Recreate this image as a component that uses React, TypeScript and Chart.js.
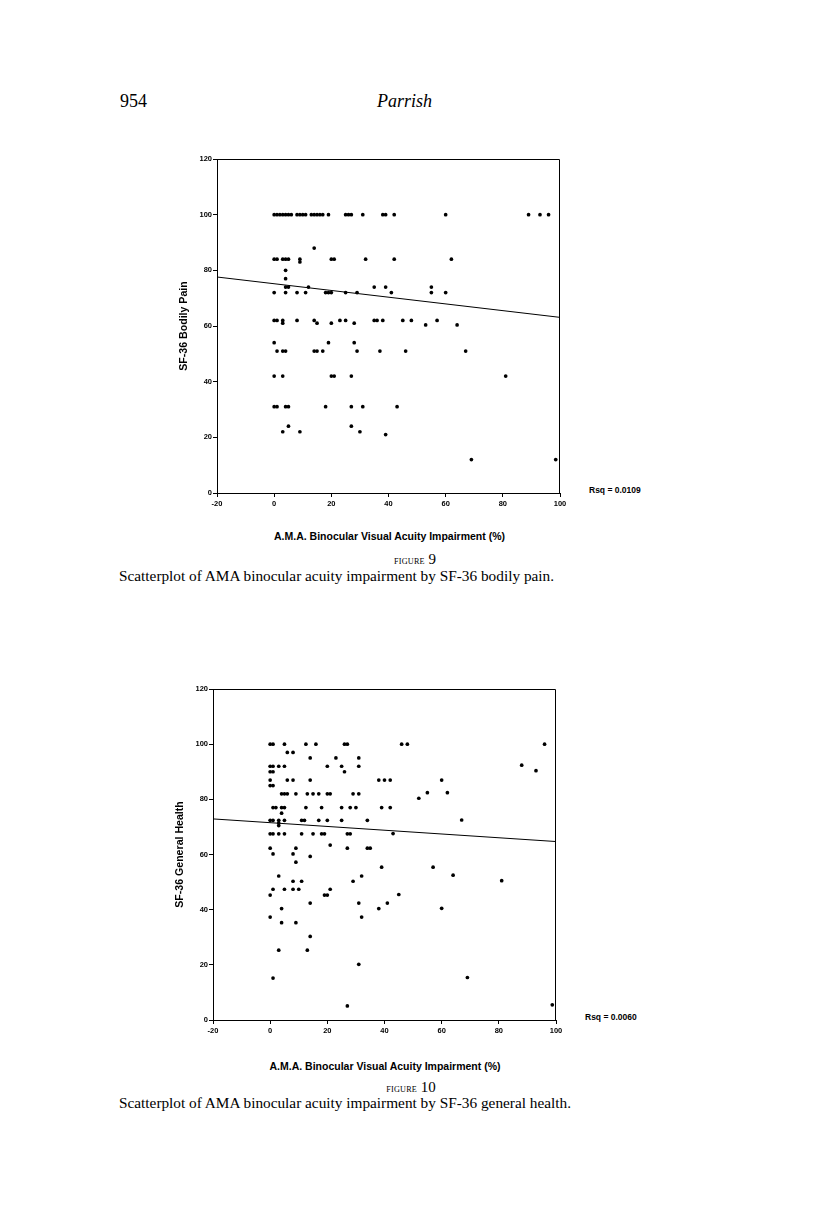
import React, { useEffect, useRef } from "react";
import { Chart, registerables } from "chart.js";

Chart.register(...registerables);

// ---------- data ----------
const xTicks = [-20, 0, 20, 40, 60, 80, 100];
const yTicks = [0, 20, 40, 60, 80, 100, 120];

// Figure 9: AMA impairment (x) vs SF-36 Bodily Pain (y)
const painX = [
  0, 1, 2, 3, 4, 5, 6, 8, 9, 10, 11, 13, 14, 15, 16, 17, 19, 25, 26, 27, 31, 38, 39, 42, 60, 89, 93, 96,
  14,
  0, 1, 3, 4, 5, 9, 9, 20, 21, 32, 42, 62,
  4, 4,
  4, 5, 12, 35, 39, 55,
  0, 4, 8, 11, 18, 19, 20, 25, 29, 41, 55, 60,
  0, 1, 3, 3, 8, 14, 15, 20, 23, 25, 28, 35, 36, 38, 45, 48, 53, 57, 64,
  0, 19, 28,
  1, 3, 4, 14, 15, 17, 29, 37, 46, 67,
  0, 3, 20, 21, 27, 81,
  0, 1, 4, 5, 18, 27, 31, 43,
  5, 27,
  3, 9, 30, 39,
  69, 98.5,
];
const painY = [
  100, 100, 100, 100, 100, 100, 100, 100, 100, 100, 100, 100, 100, 100, 100, 100, 100, 100, 100, 100, 100, 100, 100, 100, 100, 100, 100, 100,
  88,
  84, 84, 84, 84, 84, 84, 83, 84, 84, 84, 84, 84,
  80, 77,
  74, 74, 74, 74, 74, 74,
  72, 72, 72, 72, 72, 72, 72, 72, 72, 72, 72, 72,
  62, 62, 62, 61, 62, 62, 61, 61, 62, 62, 61, 62, 62, 62, 62, 62, 60.4, 62, 60.4,
  54, 54, 54,
  51, 51, 51, 51, 51, 51, 51, 51, 51, 51,
  42, 42, 42, 42, 42, 42,
  31, 31, 31, 31, 31, 31, 31, 31,
  24, 24,
  22, 22, 22, 21,
  12, 12,
];

// Figure 10: AMA impairment (x) vs SF-36 General Health (y)
const healthX = [
  0, 1, 5, 12.5, 16, 26, 27, 46, 48, 96,
  6, 8,
  14, 23, 31,
  0, 1, 3, 5, 20, 25, 31, 88,
  0, 1, 26, 93,
  0, 6, 8, 14, 38, 40, 42, 60,
  0, 1,
  4, 5, 6, 9, 13, 15, 17, 20, 21, 29, 31, 55, 62,
  52,
  1, 2, 4, 5, 12.5, 18, 25, 28, 30, 39, 42,
  4,
  0, 1, 3, 5, 11, 12, 17, 20, 25, 34, 67,
  3, 3,
  0, 1, 3, 5, 11, 15, 18, 19, 27, 28, 43,
  21,
  0, 9, 27, 34, 35,
  1, 8,
  14,
  9,
  39, 57,
  3, 32, 64,
  8, 11, 29, 81,
  1, 5, 8, 10, 21,
  0, 19, 20, 45,
  14, 31, 41,
  4, 38, 60,
  0, 32,
  4, 9,
  14,
  3, 13,
  31,
  1, 69,
  27, 98.7,
];
const healthY = [
  100, 100, 100, 100, 100, 100, 100, 100, 100, 100,
  97, 97,
  95, 95, 95,
  92, 92, 92, 92, 92, 92, 92, 92.4,
  90, 90, 90, 90.4,
  87, 87, 87, 87, 87, 87, 87, 87,
  85, 85,
  82, 82, 82, 82, 82, 82, 82, 82, 82, 82, 82, 82.4, 82.4,
  80.4,
  77, 77, 77, 77, 77, 77, 77, 77, 77, 77, 77,
  75,
  72.4, 72.4, 72.4, 72.4, 72.4, 72.4, 72.4, 72.4, 72.4, 72.4, 72.5,
  71.4, 70.5,
  67.5, 67.5, 67.5, 67.5, 67.5, 67.5, 67.5, 67.5, 67.5, 67.5, 67.6,
  63.4,
  62.3, 62.3, 62.3, 62.3, 62.3,
  60.2, 60.2,
  59.3,
  57.2,
  55.4, 55.4,
  52.2, 52.2, 52.5,
  50.3, 50.3, 50.3, 50.5,
  47.4, 47.4, 47.4, 47.4, 47.4,
  45.3, 45.3, 45.3, 45.5,
  42.4, 42.4, 42.4,
  40.4, 40.4, 40.5,
  37.3, 37.3,
  35.3, 35.3,
  30.3,
  25.3, 25.3,
  20.2,
  15.2, 15.4,
  5.1, 5.5,
];

// least-squares lines as drawn (end points)
const fitX = [-20, 100];
const painFitY = [77.6, 63.1];
const healthFitY = [72.9, 64.7];

const SANS = "'Liberation Sans', Arial, Helvetica, sans-serif";
const SERIF = "'Liberation Serif', 'Times New Roman', serif";

const framePlugin = {
  id: "frame",
  afterDraw(chart: any) {
    const { ctx, chartArea } = chart;
    const l = Math.round(chartArea.left) + 0.5;
    const r = Math.round(chartArea.right) - 0.5;
    const t = Math.round(chartArea.top) + 0.5;
    const b = Math.round(chartArea.bottom);
    ctx.save();
    ctx.strokeStyle = "#000";
    ctx.lineWidth = 1;
    ctx.beginPath();
    ctx.moveTo(l, t);
    ctx.lineTo(r, t);
    ctx.lineTo(r, b);
    ctx.stroke();
    ctx.restore();
  },
};

type PlotProps = {
  xs: number[];
  ys: number[];
  fitY: number[];
  yTitle: string;
  left: number;
  top: number;
  width: number;
  height: number;
  yAxisWidth: number;
  xAxisHeight: number;
  padTop: number;
  padRight: number;
  titlePad: number;
};

function ScatterPlot(p: PlotProps) {
  const ref = useRef<HTMLCanvasElement>(null);
  useEffect(() => {
    const points = p.xs.map((x, i) => ({ x, y: p.ys[i] }));
    const fit = fitX.map((x, i) => ({ x, y: p.fitY[i] }));
    const tickFont = { family: SANS, size: 7.5, weight: "bold" as const };
    const chart = new Chart(ref.current as HTMLCanvasElement, {
      type: "scatter",
      data: {
        datasets: [
          {
            type: "line" as any,
            data: fit,
            borderColor: "#000",
            borderWidth: 1,
            pointRadius: 0,
            fill: false,
          } as any,
          {
            data: points,
            backgroundColor: "#000",
            borderColor: "#000",
            borderWidth: 0,
            pointRadius: 1.85,
            pointHoverRadius: 1.85,
          },
        ],
      },
      options: {
        responsive: false,
        animation: false,
        events: [],
        layout: { padding: { top: p.padTop, right: p.padRight, left: 0, bottom: 0 } },
        plugins: { legend: { display: false }, tooltip: { enabled: false } },
        scales: {
          x: {
            type: "linear",
            min: -20,
            max: 100,
            afterBuildTicks: (s: any) => {
              s.ticks = xTicks.map((v) => ({ value: v }));
            },
            afterFit: (s: any) => {
              s.height = p.xAxisHeight;
            },
            ticks: { font: tickFont, color: "#000", padding: 2, maxRotation: 0, autoSkip: false },
            grid: { drawOnChartArea: false, drawTicks: true, tickLength: 4, color: "#000" },
            border: { display: true, color: "#000", width: 1 },
          },
          y: {
            type: "linear",
            min: 0,
            max: 120,
            afterBuildTicks: (s: any) => {
              s.ticks = yTicks.map((v) => ({ value: v }));
            },
            afterFit: (s: any) => {
              s.width = p.yAxisWidth;
            },
            ticks: { font: tickFont, color: "#000", padding: 1, autoSkip: false },
            grid: { drawOnChartArea: false, drawTicks: true, tickLength: 4, color: "#000" },
            border: { display: true, color: "#000", width: 1 },
            title: {
              display: true,
              text: p.yTitle,
              color: "#000",
              font: { family: SANS, size: 10.6, weight: "bold" },
              padding: { top: p.titlePad, bottom: 0 },
            },
          },
        },
      },
      plugins: [framePlugin],
    });
    return () => chart.destroy();
  }, []);
  return (
    <canvas
      ref={ref}
      width={p.width}
      height={p.height}
      style={{ position: "absolute", left: p.left, top: p.top, width: p.width, height: p.height }}
    />
  );
}

const abs = (left: number, top: number, extra: React.CSSProperties = {}): React.CSSProperties => ({
  position: "absolute",
  left,
  top,
  whiteSpace: "nowrap",
  color: "#000",
  ...extra,
});

export default function App() {
  const axisTitle: React.CSSProperties = {
    fontFamily: SANS,
    fontWeight: "bold",
    fontSize: 10.5,
    lineHeight: "10.5px",
    transform: "translateX(-50%)",
  };
  const rsq: React.CSSProperties = { fontFamily: SANS, fontWeight: "bold", fontSize: 8.5, lineHeight: "8.5px" };
  const fig: React.CSSProperties = {
    fontFamily: SERIF,
    fontSize: 15,
    lineHeight: "15px",
    transform: "translateX(-50%)",
  };
  const small: React.CSSProperties = { fontSize: 8.2, letterSpacing: "0.2px" };
  const cap: React.CSSProperties = { fontFamily: SERIF, fontSize: 15.3, lineHeight: "15.3px" };
  return (
    <div style={{ position: "absolute", left: 0, top: 0, width: 816, height: 1224, background: "#fff", overflow: "hidden" }}>
      <div style={abs(120, 92, { fontFamily: SERIF, fontSize: 18, lineHeight: "18px" })}>954</div>
      <div style={abs(377, 92, { fontFamily: SERIF, fontSize: 18, lineHeight: "18px", fontStyle: "italic" })}>Parrish</div>

      <ScatterPlot
        xs={painX}
        ys={painY}
        fitY={painFitY}
        yTitle="SF-36 Bodily Pain"
        left={150}
        top={149}
        width={430}
        height={370}
        yAxisWidth={67}
        xAxisHeight={26}
        padTop={10}
        padRight={20}
        titlePad={27.6}
      />
      <div style={abs(589, 486, rsq)}>Rsq = 0.0109</div>
      <div style={abs(389.5, 530.9, axisTitle)}>A.M.A. Binocular Visual Acuity Impairment (%)</div>
      <div style={abs(415, 552.4, fig)}>
        <span style={small}>FIGURE</span> 9
      </div>
      <div style={abs(119, 567.7, cap)}>Scatterplot of AMA binocular acuity impairment by SF-36 bodily pain.</div>

      <ScatterPlot
        xs={healthX}
        ys={healthY}
        fitY={healthFitY}
        yTitle="SF-36 General Health"
        left={150}
        top={679}
        width={426}
        height={370}
        yAxisWidth={63}
        xAxisHeight={29}
        padTop={10}
        padRight={20}
        titlePad={23.6}
      />
      <div style={abs(585, 1013, rsq)}>Rsq = 0.0060</div>
      <div style={abs(385, 1060.9, axisTitle)}>A.M.A. Binocular Visual Acuity Impairment (%)</div>
      <div style={abs(411, 1079.9, fig)}>
        <span style={small}>FIGURE</span> 10
      </div>
      <div style={abs(119, 1094.7, cap)}>Scatterplot of AMA binocular acuity impairment by SF-36 general health.</div>
    </div>
  );
}
